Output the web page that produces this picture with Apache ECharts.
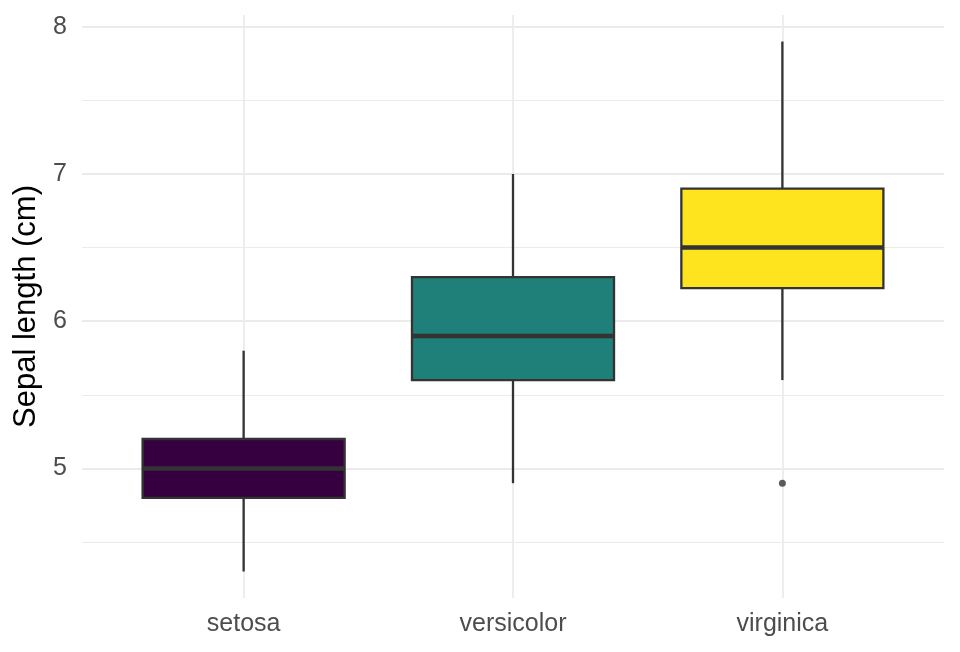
<!DOCTYPE html>
<html>
<head>
<meta charset="utf-8">
<script src="https://cdn.jsdelivr.net/npm/echarts@6/dist/echarts.min.js"></script>
<style>
  html, body { margin: 0; padding: 0; background: #fff; }
  #chart { width: 960px; height: 652px; }
</style>
</head>
<body>
<div id="chart"></div>
<script>
// 数据
var species = ['setosa', 'versicolor', 'virginica'];
// [min, Q1, median, Q3, max]
var boxStats = [
  [4.3, 4.8, 5.0, 5.2, 5.8],
  [4.9, 5.6, 5.9, 6.3, 7.0],
  [5.6, 6.225, 6.5, 6.9, 7.9]
];
var outliers = [[3, 4.9]];
var fillColors = ['#360040', '#1f8079', '#fde41f'];
var yMajor = [5, 6, 7, 8];
var yMinor = [4.5, 5.5, 6.5, 7.5];

var chart = echarts.init(document.getElementById('chart'));

var boxData = boxStats.map(function(s, i) {
  return [i + 1].concat(s);
});

// 箱线图绘制
function renderBox(params, api) {
  var x = api.value(0);
  var half = 0.375;
  var pMin = api.coord([x, api.value(1)]);
  var pQ1 = api.coord([x, api.value(2)]);
  var pMed = api.coord([x, api.value(3)]);
  var pQ3 = api.coord([x, api.value(4)]);
  var pMax = api.coord([x, api.value(5)]);
  var left = api.coord([x - half, api.value(3)])[0];
  var right = api.coord([x + half, api.value(3)])[0];
  var stroke = '#333333';
  return {
    type: 'group',
    children: [
      { type: 'line', shape: { x1: pQ3[0], y1: pQ3[1], x2: pMax[0], y2: pMax[1] },
        style: { stroke: stroke, lineWidth: 2.3 } },
      { type: 'line', shape: { x1: pQ1[0], y1: pQ1[1], x2: pMin[0], y2: pMin[1] },
        style: { stroke: stroke, lineWidth: 2.3 } },
      { type: 'rect', shape: { x: left, y: pQ3[1], width: right - left, height: pQ1[1] - pQ3[1] },
        style: { fill: fillColors[params.dataIndex], stroke: stroke, lineWidth: 2.3 } },
      { type: 'line', shape: { x1: left, y1: pMed[1], x2: right, y2: pMed[1] },
        style: { stroke: stroke, lineWidth: 4.5 } }
    ]
  };
}

var font = 'Liberation Sans, Arial, sans-serif';
var yAxisBase = {
  type: 'value',
  min: 4.12,
  max: 8.08,
  axisLine: { show: false },
  axisTick: { show: false }
};

chart.setOption({
  animation: false,
  grid: { left: 82, right: 16, top: 15, bottom: 54 },
  xAxis: {
    type: 'value',
    min: 0.4,
    max: 3.6,
    axisLine: { show: false },
    axisTick: { show: false, customValues: [1, 2, 3] },
    axisLabel: {
      customValues: [1, 2, 3],
      formatter: function(v) { return species[Math.round(v) - 1]; },
      color: '#4d4d4d',
      fontSize: 25,
      fontFamily: font,
      margin: 14
    },
    splitLine: { show: true, lineStyle: { color: '#ebebeb', width: 1.8 } }
  },
  yAxis: [
    Object.assign({}, yAxisBase, {
      name: 'Sepal length (cm)',
      nameLocation: 'middle',
      nameGap: 38,
      nameTextStyle: { color: '#000', fontSize: 31, fontFamily: font },
      axisTick: { show: false, customValues: yMajor },
      axisLabel: {
        customValues: yMajor,
        color: '#4d4d4d',
        fontSize: 25,
        fontFamily: font,
        margin: 15
      },
      splitLine: { show: true, lineStyle: { color: '#ebebeb', width: 1.8 } }
    }),
    Object.assign({}, yAxisBase, {
      axisTick: { show: false, customValues: yMinor },
      axisLabel: { show: false, customValues: yMinor },
      splitLine: { show: true, lineStyle: { color: '#ebebeb', width: 1 } }
    })
  ],
  series: [
    {
      type: 'custom',
      renderItem: renderBox,
      data: boxData,
      encode: { x: 0, y: [1, 2, 3, 4, 5] },
      z: 3
    },
    {
      type: 'scatter',
      data: outliers,
      symbolSize: 7,
      itemStyle: { color: '#333333' },
      z: 4
    }
  ]
});
</script>
</body>
</html>
